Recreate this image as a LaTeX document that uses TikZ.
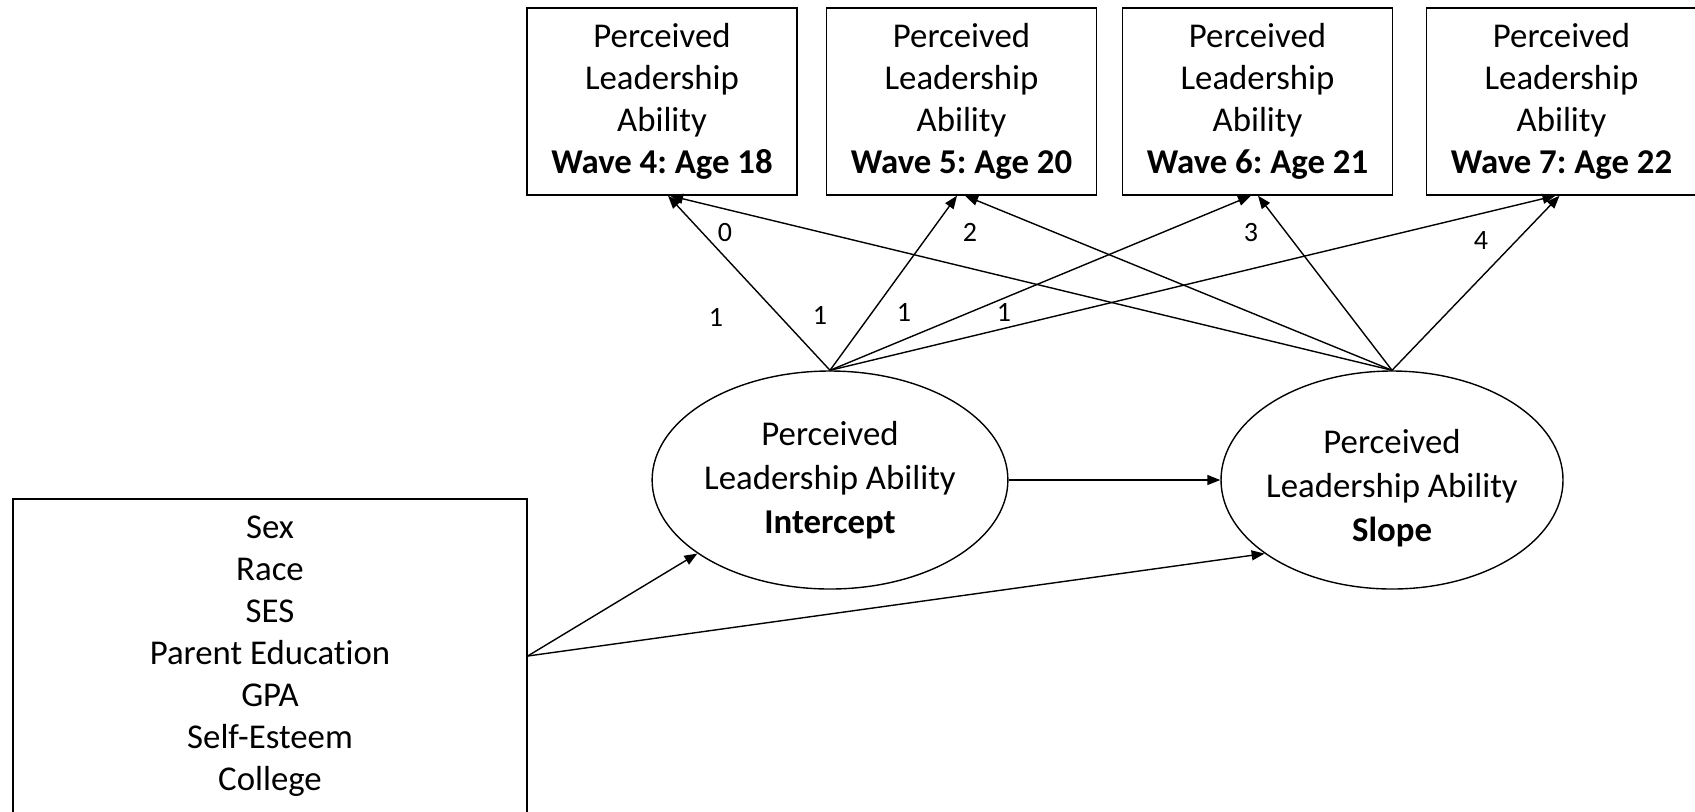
\documentclass[tikz,border=0pt]{standalone}
\usepackage{fontspec}
\setmainfont{Carlito}[Ligatures=NoCommon]
\frenchspacing
\usetikzlibrary{arrows.meta,shapes.geometric}
\begin{document}
\begin{tikzpicture}[x=0.5pt,y=-0.5pt,
  lw/.style={line width=0.7pt},
  obs/.style={draw,lw,rectangle,minimum width=135pt,minimum height=93.5pt,inner sep=0pt,align=center,font=\fontsize{17.4}{21}\selectfont},
  lat/.style={draw,lw,ellipse,minimum width=170pt,minimum height=109pt,inner sep=0pt,align=center,font=\fontsize{17.4}{22}\selectfont},
  lattext/.style={inner sep=0pt,align=center,font=\fontsize{17.4}{22}\selectfont},
  arr/.style={lw,-{Triangle[length=6.5pt,width=5pt]}},
  num/.style={font=\fontsize{14}{16}\selectfont,inner sep=0pt}]
\useasboundingbox (0,0) rectangle (1695,811);
\clip (0,0) rectangle (1695,811);
\fill[white] (0,0) rectangle (1695,811);

% observed indicators
\node[obs] (W4) at (662,101.5) {Perceived\\Leadership\\Ability\\\textbf{Wave 4: Age 18}};
\node[obs] (W5) at (961.5,101.5) {Perceived\\Leadership\\Ability\\\textbf{Wave 5: Age 20}};
\node[obs] (W6) at (1257.5,101.5) {Perceived\\Leadership\\Ability\\\textbf{Wave 6: Age 21}};
\node[obs] (W7) at (1561.5,101.5) {Perceived\\Leadership\\Ability\\\textbf{Wave 7: Age 22}};

% latent factors
\node[lat] (I) at (830,480) {Perceived\\Leadership Ability\\\textbf{Intercept}};
\node[lat,minimum width=171pt] (S) at (1392,480) {};
\node[lattext] (St) at (1392,488) {Perceived\\Leadership Ability\\\textbf{Slope}};

% covariates
\node[obs,minimum width=257pt,minimum height=157pt] (C) at (270,656)
  {Sex\\Race\\SES\\Parent Education\\GPA\\Self-Esteem\\College};

% loadings
\draw[arr] (I.north) -- ([xshift=3pt]W4.south);
\draw[arr] (S.north) -- ([xshift=4pt]W4.south);
\draw[arr] (I.north) -- ([xshift=-2.25pt]W5.south);
\draw[arr] (S.north) -- ([xshift=1.75pt]W5.south);
\draw[arr] (I.north) -- ([xshift=-3.25pt]W6.south);
\draw[arr] (S.north) -- ([xshift=0.25pt]W6.south);
\draw[arr] (I.north) -- ([xshift=-3pt]W7.south);
\draw[arr] (S.north) -- ([xshift=-1pt]W7.south);

% structural paths
\draw[arr] (I.east) -- (S.west);
\draw[arr] (C.east) -- (I.209);
\draw[arr] (C.east) -- (S.210);

% loading labels
\node[num] (l0) at (725,232) {0};
\node[num] (l2) at (970,232) {2};
\node[num] (l3) at (1251,232) {3};
\node[num] (l4) at (1481,240) {4};
\node[num] (la) at (716,317) {1};
\node[num] (lb) at (820,315) {1};
\node[num] (lc) at (904,312) {1};
\node[num] (ld) at (1004,312) {1};
\end{tikzpicture}
\end{document}
